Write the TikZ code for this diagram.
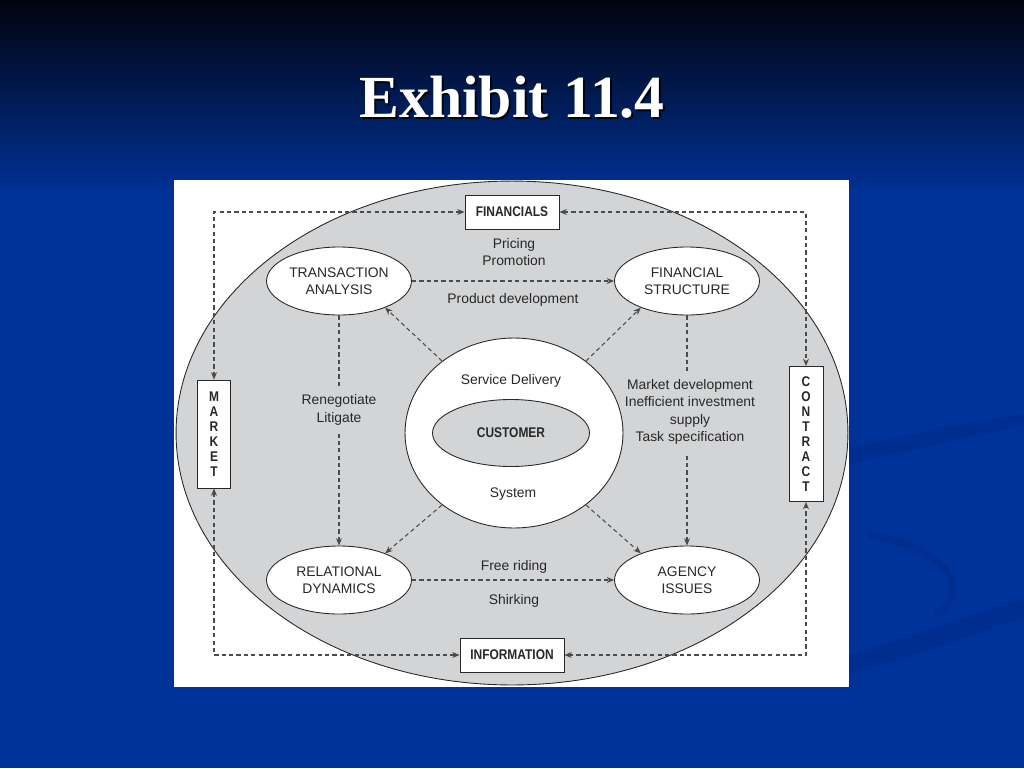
\documentclass[tikz,border=0pt]{standalone}
\usepackage{fontspec}
\usetikzlibrary{shapes.geometric,arrows.meta}
\newfontfamily\titlefont{Liberation Serif}
\newfontfamily\diagfont{Liberation Sans}
\newfontfamily\tagfont[FakeStretch=0.85]{Liberation Sans}
\definecolor{slideblue}{RGB}{0,51,154}
\definecolor{slidetop}{RGB}{1,3,15}
\definecolor{slidemid}{RGB}{5,26,78}
\definecolor{swoosh}{RGB}{0,46,144}
\definecolor{ringgray}{RGB}{211,212,214}
\definecolor{inkgray}{RGB}{40,40,40}
\definecolor{dashgray}{RGB}{75,75,75}
\begin{document}
\begin{tikzpicture}[x=0.02cm, y=-0.02cm,
    >={Stealth[length=4.2pt,width=3.4pt]},
    topic/.style={ellipse, draw=inkgray, fill=white, line width=0.5pt, minimum width=2.9cm, minimum height=1.36cm, inner sep=0pt, align=center, text=inkgray, font=\diagfont\fontsize{7.9}{9.6}\selectfont},
    tag/.style={rectangle, draw=inkgray, fill=white, line width=0.5pt, inner sep=0pt, align=center, text=inkgray, font=\tagfont\bfseries\fontsize{8}{8.5}\selectfont},
    note/.style={align=center, text=inkgray, font=\diagfont\fontsize{7.9}{9.8}\selectfont},
    link/.style={draw=dashgray, line width=0.6pt, dash pattern=on 2.4pt off 1.8pt, ->},
    outerlink/.style={link, <->}]
  \useasboundingbox (0,0) rectangle (1024,768);

  % slide background
  \shade[top color=slidetop, middle color=slidemid, bottom color=slideblue] (0,0) rectangle (1024,200);
  \fill[slideblue] (0,200) rectangle (1024,768);
  \fill[swoosh] (849,447) .. controls (930,430) and (980,420) .. (1024,414) -- (1024,426) .. controls (980,434) and (930,447) .. (849,464) -- cycle;
  \fill[swoosh] (849,655) .. controls (930,630) and (980,612) .. (1024,598) -- (1024,618) .. controls (980,632) and (930,652) .. (849,674) -- cycle;
  \draw[swoosh, line width=4pt] (868,535) .. controls (940,545) and (978,590) .. (935,615);

  % title
  \node[anchor=base, font=\titlefont\bfseries\fontsize{34}{36}\selectfont, text=black, opacity=0.8] at (514,119) {Exhibit 11.4};
  \node[anchor=base, font=\titlefont\bfseries\fontsize{34}{36}\selectfont, text=white] (title) at (512,117) {Exhibit 11.4};

  % panel and ring
  \fill[white] (174,180) rectangle (849,687);
  \draw[inkgray, fill=ringgray, line width=0.5pt] (512,433) ellipse [x radius=6.72cm, y radius=5.04cm];

  % outer boxes
  \node[tag, minimum width=1.88cm, minimum height=0.68cm] (fin) at (512,212) {FINANCIALS};
  \node[tag, minimum width=2.08cm, minimum height=0.68cm] (info) at (512,655) {INFORMATION};
  \node[tag, minimum width=0.66cm, minimum height=2.16cm] (mkt) at (214,434) {M\\A\\R\\K\\E\\T};
  \node[tag, minimum width=0.68cm, minimum height=2.7cm] (ctr) at (806,434) {C\\O\\N\\T\\R\\A\\C\\T};
  \coordinate (nw) at (214,212);
  \coordinate (ne) at (806,212);
  \coordinate (sw) at (214,655);
  \coordinate (se) at (806,655);
  \draw[outerlink] (fin.west) -- (nw) -- (mkt.north);
  \draw[outerlink] (fin.east) -- (ne) -- (ctr.north);
  \draw[outerlink] (mkt.south) -- (sw) -- (info.west);
  \draw[outerlink] (info.east) -- (se) -- (ctr.south);

  % the four topics
  \node[topic] (ta) at (339,281) {TRANSACTION\\ANALYSIS};
  \node[topic] (fs) at (687,281) {FINANCIAL\\STRUCTURE};
  \node[topic] (rd) at (339,580) {RELATIONAL\\DYNAMICS};
  \node[topic] (ai) at (687,580) {AGENCY\\ISSUES};

  \draw[link] (ta) -- (fs);
  \draw[link] (ta) -- (rd);
  \draw[link] (fs) -- (ai);
  \draw[link] (rd) -- (ai);

  % labels on the links
  \node[note] (pp) at (514,252) {Pricing\\Promotion};
  \node[note] (pd) at (513,300) {Product development};
  \node[note, fill=ringgray, inner sep=4pt] (rl) at (339,410) {Renegotiate\\Litigate};
  \node[note, fill=ringgray, inner xsep=1pt, inner ysep=5pt] (mi) at (690,412) {Market development\\Inefficient investment\\supply\\Task specification};
  \node[note] (fr) at (514,567) {Free riding};
  \node[note] (sh) at (514,601) {Shirking};

  % centre
  \node[ellipse, draw=inkgray, fill=white, line width=0.5pt, minimum width=4.36cm, minimum height=3.8cm] (svc) at (514,433) {};
  \node[tag, ellipse, fill=ringgray, minimum width=3.14cm, minimum height=1.34cm] (cust) at (511,433) {CUSTOMER};
  \node[note] (sd) at (511,381) {Service Delivery};
  \node[note] (sys) at (513,494) {System};

  \draw[link] (svc.135) -- (ta.-30);
  \draw[link] (svc.45) -- (fs.-150);
  \draw[link] (svc.-135) -- (rd.30);
  \draw[link] (svc.-45) -- (ai.150);
\end{tikzpicture}
\end{document}
